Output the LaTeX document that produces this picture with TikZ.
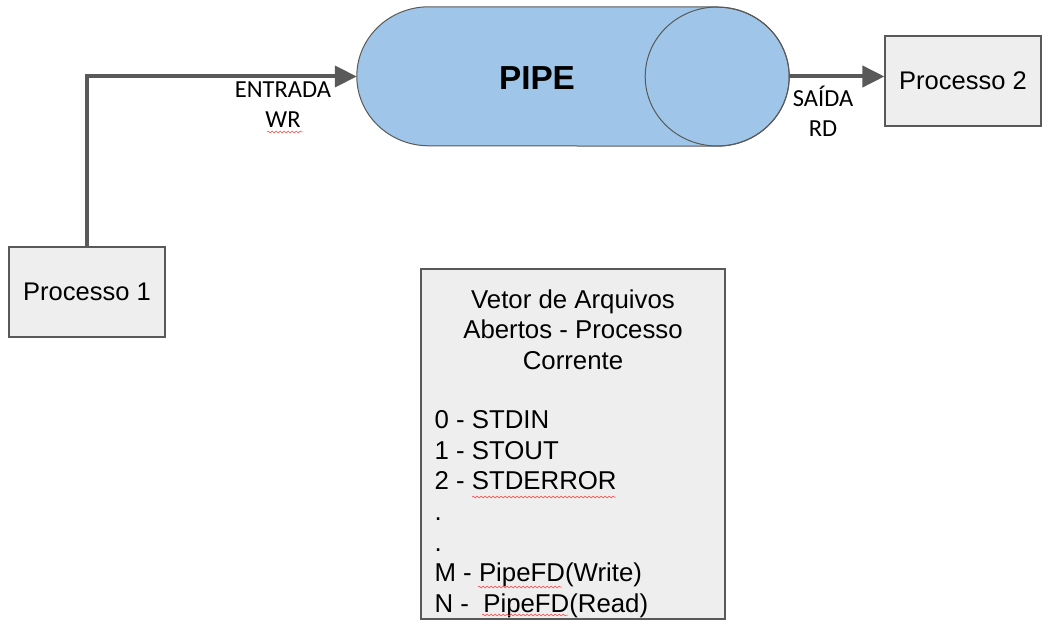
\documentclass[tikz,border=0pt]{standalone}
\usepackage{fontspec}
\setmainfont{Liberation Sans}
\newfontfamily\lblfont{Carlito}
\usetikzlibrary{arrows.meta,positioning,decorations.pathmorphing}
\definecolor{pipeblue}{HTML}{9FC5E8}
\definecolor{boxgray}{HTML}{EEEEEE}
\definecolor{linegray}{HTML}{595959}
\tikzset{
	procbox/.style={draw=linegray,fill=boxgray,line width=1.2pt,
		minimum width=156pt,minimum height=90pt,inner sep=0pt,
		font=\fontsize{25.5}{30}\selectfont},
	flow/.style={draw=linegray,line width=4pt,-{Triangle[length=22pt,width=21pt]}},
	portlbl/.style={font=\lblfont\fontsize{24.5}{30}\selectfont,align=center,inner sep=0pt},
	fdtext/.style={font=\fontsize{25.8}{30.6}\selectfont,inner sep=0pt},
	spell/.style={red!75,line width=0.5pt,decorate,
		decoration={snake,amplitude=0.9pt,segment length=4pt}}
}
\begin{document}
\begin{tikzpicture}[x=1pt,y=1pt]
\useasboundingbox (0,0) rectangle (1048,629);
% pipe
\node[minimum width=432pt,minimum height=139pt,inner sep=0pt] (pipe) at (573,552.5) {};
\draw[draw=linegray,fill=pipeblue,line width=1pt]
	([xshift=-72pt]pipe.north east) -- ([xshift=72pt]pipe.north west)
	arc[start angle=90,end angle=270,x radius=72,y radius=69.5]
	-- ([xshift=-72pt]pipe.south east)
	arc[start angle=-90,end angle=90,x radius=72,y radius=69.5] -- cycle;
\draw[draw=linegray,line width=1pt] ([xshift=-72pt]pipe.east) ellipse [x radius=72,y radius=69.5];
\node[font=\bfseries\fontsize{33.3}{38}\selectfont] (pipelbl) at (537,551) {PIPE};
% processos
\node[procbox] (p1) at (87,337) {Processo 1};
\node[procbox] (p2) at (963,548) {Processo 2};
\draw[flow] (p1.north) |- (pipe.west);
\draw[flow] (pipe.east) -- (pipe.east -| p2.west);
\node[portlbl] (wrlbl) at (283,524) {ENTRADA\\WR};
\node[portlbl] (rdlbl) at (823,518) {SAÍDA\\RD};
% vetor de arquivos
\node[draw=linegray,fill=boxgray,line width=1.2pt,minimum width=304pt,minimum height=350pt] (fdtable) at (573,185) {};
\node[fdtext,align=center,anchor=north] (fdtitle) at ([yshift=-21pt]fdtable.north)
	{Vetor de Arquivos\\Abertos - Processo\\Corrente};
\node[fdtext,align=left,anchor=north west] (fdlist) at ([xshift=14pt,yshift=-142pt]fdtable.north west)
	{0 - STDIN\\1 - STOUT\\2 - STDERROR\\.\\.\\M - PipeFD(Write)\\N -~ PipeFD(Read)};
% corretor ortografico
\draw[spell] (267,497) -- (303,497);
\draw[spell] (472,132) -- (616,132);
\draw[spell] (478,42) -- (562,42);
\draw[spell] (482,14) -- (568,14);
\end{tikzpicture}
\end{document}
